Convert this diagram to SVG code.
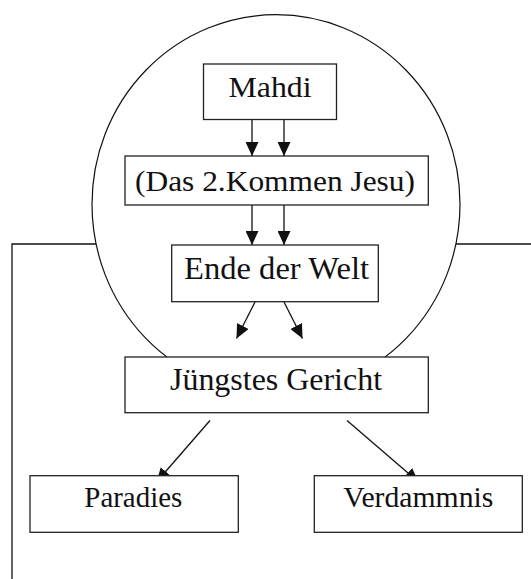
<svg xmlns="http://www.w3.org/2000/svg" width="531" height="579" viewBox="0 0 531 579">
<style>
.box{fill:#fff;stroke:#222;stroke-width:1.3}
.lbl{font-family:"Liberation Serif","DejaVu Serif",serif;fill:#111;text-anchor:middle}
.edge{fill:none;stroke:#111;stroke-width:1.3}
.arr{marker-end:url(#ah)}
</style>
<defs>
<marker id="ah" markerUnits="userSpaceOnUse" markerWidth="14" markerHeight="13" refX="14" refY="6.5" orient="auto">
<path d="M0,0 L14,6.5 L0,13 Z" fill="#111"/>
</marker>
</defs>
<rect width="531" height="579" fill="#fff"/>
<g id="circle">
<ellipse cx="276" cy="204.3" rx="184" ry="189.6" fill="none" stroke="#111" stroke-width="1.2"/>
</g>
<g id="connectors">
<path class="edge" d="M96,244 H12 V579"/>
<path class="edge" d="M456,244 H531"/>
<path class="edge arr" d="M252,119.5 V156"/>
<path class="edge arr" d="M284,119.5 V156"/>
<path class="edge arr" d="M252,205 V245"/>
<path class="edge arr" d="M284,205 V245"/>
<path class="edge arr" d="M255,302 L236.5,338.5"/>
<path class="edge arr" d="M284,302 L302.5,338.5"/>
<path class="edge arr" d="M210,420.5 L156.5,482"/>
<path class="edge arr" d="M347,420.5 L418.5,482"/>
</g>
<g id="mahdi">
<rect class="box" x="203.5" y="64" width="133" height="55.5"/>
<text class="lbl" x="270" y="97.3" font-size="30" textLength="83" lengthAdjust="spacingAndGlyphs">Mahdi</text>
</g>
<g id="kommen">
<rect class="box" x="125" y="156" width="303.3" height="49"/>
<text class="lbl" x="275" y="190.7" font-size="30" textLength="280" lengthAdjust="spacingAndGlyphs">(Das 2.Kommen Jesu)</text>
</g>
<g id="ende">
<rect class="box" x="171.7" y="245" width="206.6" height="56.7"/>
<text class="lbl" x="276.5" y="279.3" font-size="32" textLength="185" lengthAdjust="spacingAndGlyphs">Ende der Welt</text>
</g>
<g id="gericht">
<rect class="box" x="125" y="357" width="303.3" height="55.7"/>
<text class="lbl" x="276" y="390.3" font-size="32" textLength="212" lengthAdjust="spacingAndGlyphs">Jüngstes Gericht</text>
</g>
<g id="paradies">
<rect class="box" x="30" y="475.7" width="208.3" height="56.6"/>
<text class="lbl" x="133.3" y="507.3" font-size="30" textLength="98" lengthAdjust="spacingAndGlyphs">Paradies</text>
</g>
<g id="verdammnis">
<rect class="box" x="314.3" y="475.7" width="208" height="56.6"/>
<text class="lbl" x="418.3" y="507.3" font-size="30" textLength="150" lengthAdjust="spacingAndGlyphs">Verdammnis</text>
</g>
</svg>
